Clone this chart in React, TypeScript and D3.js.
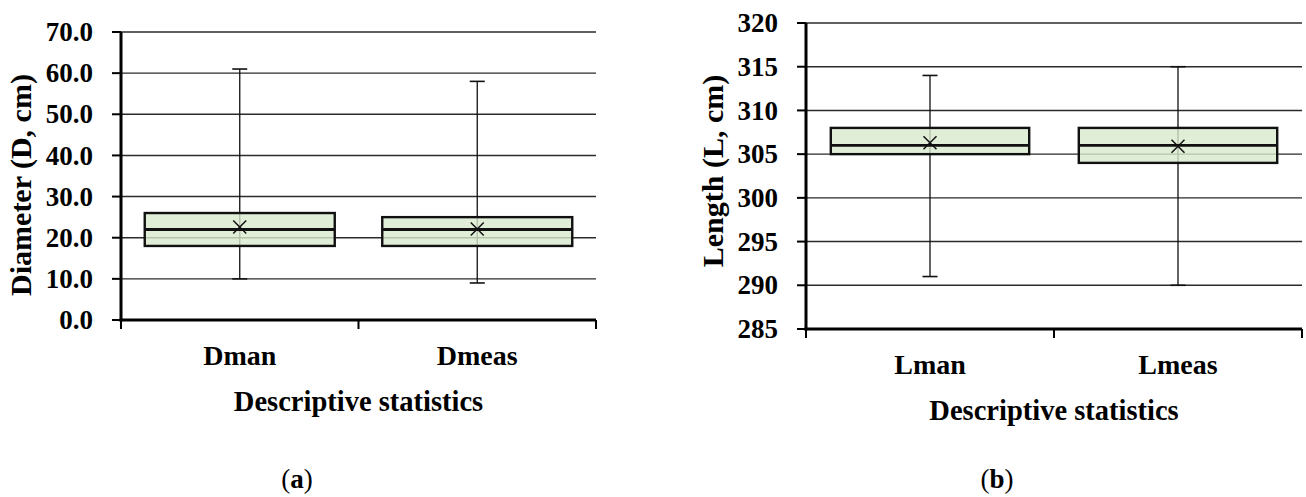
import * as d3 from "d3";

// panel (a) – diameter
const dCategories = ["Dman", "Dmeas"];
const dMin = [10, 9];
const dQ1 = [18, 18];
const dMedian = [22, 22];
const dQ3 = [26, 25];
const dMax = [61, 58];
const dMean = [22.6, 22.1];
const dTicks = [0, 10, 20, 30, 40, 50, 60, 70];

// panel (b) – length
const lCategories = ["Lman", "Lmeas"];
const lMin = [291, 290];
const lQ1 = [305, 304];
const lMedian = [306, 306];
const lQ3 = [308, 308];
const lMax = [314, 315];
const lMean = [306.3, 305.9];
const lTicks = [285, 290, 295, 300, 305, 310, 315, 320];

const FONT = "'Liberation Serif', 'Times New Roman', serif";

interface PanelProps {
  categories: string[];
  min: number[];
  q1: number[];
  median: number[];
  q3: number[];
  max: number[];
  mean: number[];
  ticks: number[];
  tickFmt: (v: number) => string;
  left: number;
  right: number;
  top: number;
  bottom: number;
  yTitle: string;
  yTitleX: number;
  yTitleY: number;
  tag: string;
  tagX: number;
}

function BoxPanel(p: PanelProps) {
  const y = d3
    .scaleLinear()
    .domain([p.ticks[0], p.ticks[p.ticks.length - 1]])
    .range([p.bottom, p.top]);
  const x = d3.scaleBand().domain(p.categories).range([p.left, p.right]);
  const bw = x.bandwidth();
  const boxW = bw * 0.8;
  const capW = 15;
  const m = 6.5; // half size of the mean cross
  const mid = (p.left + p.right) / 2;

  return (
    <g>
      {/* gridlines */}
      {p.ticks.slice(1).map((t) => (
        <line
          key={"g" + t}
          x1={p.left}
          x2={p.right}
          y1={y(t)}
          y2={y(t)}
          stroke="#2b2b2b"
          strokeWidth={1.4}
        />
      ))}

      {/* whiskers + boxes */}
      {p.categories.map((c, i) => {
        const cx = (x(c) as number) + bw / 2;
        return (
          <g key={c}>
            <line x1={cx} x2={cx} y1={y(p.max[i])} y2={y(p.min[i])} stroke="#111" strokeWidth={1.3} />
            <line x1={cx - capW / 2} x2={cx + capW / 2} y1={y(p.max[i])} y2={y(p.max[i])} stroke="#111" strokeWidth={1.6} />
            <line x1={cx - capW / 2} x2={cx + capW / 2} y1={y(p.min[i])} y2={y(p.min[i])} stroke="#111" strokeWidth={1.6} />
            <rect
              x={cx - boxW / 2}
              y={y(p.q3[i])}
              width={boxW}
              height={y(p.q1[i]) - y(p.q3[i])}
              fill="#d9eacd"
              fillOpacity={0.8}
              stroke="#111"
              strokeWidth={2.4}
            />
            <line
              x1={cx - boxW / 2}
              x2={cx + boxW / 2}
              y1={y(p.median[i])}
              y2={y(p.median[i])}
              stroke="#111"
              strokeWidth={2.8}
            />
            <path
              d={`M${cx - m},${y(p.mean[i]) - m}L${cx + m},${y(p.mean[i]) + m}M${cx - m},${y(p.mean[i]) + m}L${cx + m},${y(p.mean[i]) - m}`}
              stroke="#111"
              strokeWidth={1.5}
              fill="none"
            />
          </g>
        );
      })}

      {/* y axis */}
      <line x1={p.left} x2={p.left} y1={p.top} y2={p.bottom + 1.5} stroke="#000" strokeWidth={3} />
      {p.ticks.map((t) => (
        <g key={"t" + t}>
          <line x1={p.left - 9} x2={p.left} y1={y(t)} y2={y(t)} stroke="#000" strokeWidth={2} />
          <text
            x={p.left - 28}
            y={y(t)}
            dy="0.34em"
            textAnchor="end"
            fontFamily={FONT}
            fontWeight="bold"
            fontSize={27}
            fill="#000"
          >
            {p.tickFmt(t)}
          </text>
        </g>
      ))}

      {/* x axis */}
      <line x1={p.left - 1.5} x2={p.right} y1={p.bottom} y2={p.bottom} stroke="#000" strokeWidth={3} />
      {[...p.categories.map((c) => x(c) as number), p.right].map((bx, i) => (
        <line key={"xt" + i} x1={bx} x2={bx} y1={p.bottom} y2={p.bottom + 9} stroke="#000" strokeWidth={2} />
      ))}
      {p.categories.map((c) => (
        <text
          key={"l" + c}
          x={(x(c) as number) + bw / 2}
          y={p.bottom + 45}
          textAnchor="middle"
          fontFamily={FONT}
          fontWeight="bold"
          fontSize={28}
        >
          {c}
        </text>
      ))}
      <text x={mid} y={p.bottom + 91} textAnchor="middle" fontFamily={FONT} fontWeight="bold" fontSize={28.5}>
        Descriptive statistics
      </text>

      {/* y title */}
      <text
        transform={`translate(${p.yTitleX},${p.yTitleY}) rotate(-90)`}
        textAnchor="middle"
        fontFamily={FONT}
        fontWeight="bold"
        fontSize={30}
      >
        {p.yTitle}
      </text>

      {/* panel tag */}
      <text x={p.tagX} y={488} textAnchor="middle" fontFamily={FONT} fontSize={27}>
        (<tspan fontWeight="bold">{p.tag}</tspan>)
      </text>
    </g>
  );
}

export default function App() {
  return (
    <svg
      width={1306}
      height={497}
      style={{ position: "absolute", left: 0, top: 0, background: "#fff" }}
    >
      <BoxPanel
        categories={dCategories}
        min={dMin}
        q1={dQ1}
        median={dMedian}
        q3={dQ3}
        max={dMax}
        mean={dMean}
        ticks={dTicks}
        tickFmt={d3.format(".1f")}
        left={121}
        right={596}
        top={32}
        bottom={320}
        yTitle="Diameter (D, cm)"
        yTitleX={31}
        yTitleY={185}
        tag="a"
        tagX={297}
      />
      <BoxPanel
        categories={lCategories}
        min={lMin}
        q1={lQ1}
        median={lMedian}
        q3={lQ3}
        max={lMax}
        mean={lMean}
        ticks={lTicks}
        tickFmt={d3.format("d")}
        left={806}
        right={1302}
        top={23}
        bottom={329}
        yTitle="Length (L, cm)"
        yTitleX={723}
        yTitleY={171}
        tag="b"
        tagX={997}
      />
    </svg>
  );
}
